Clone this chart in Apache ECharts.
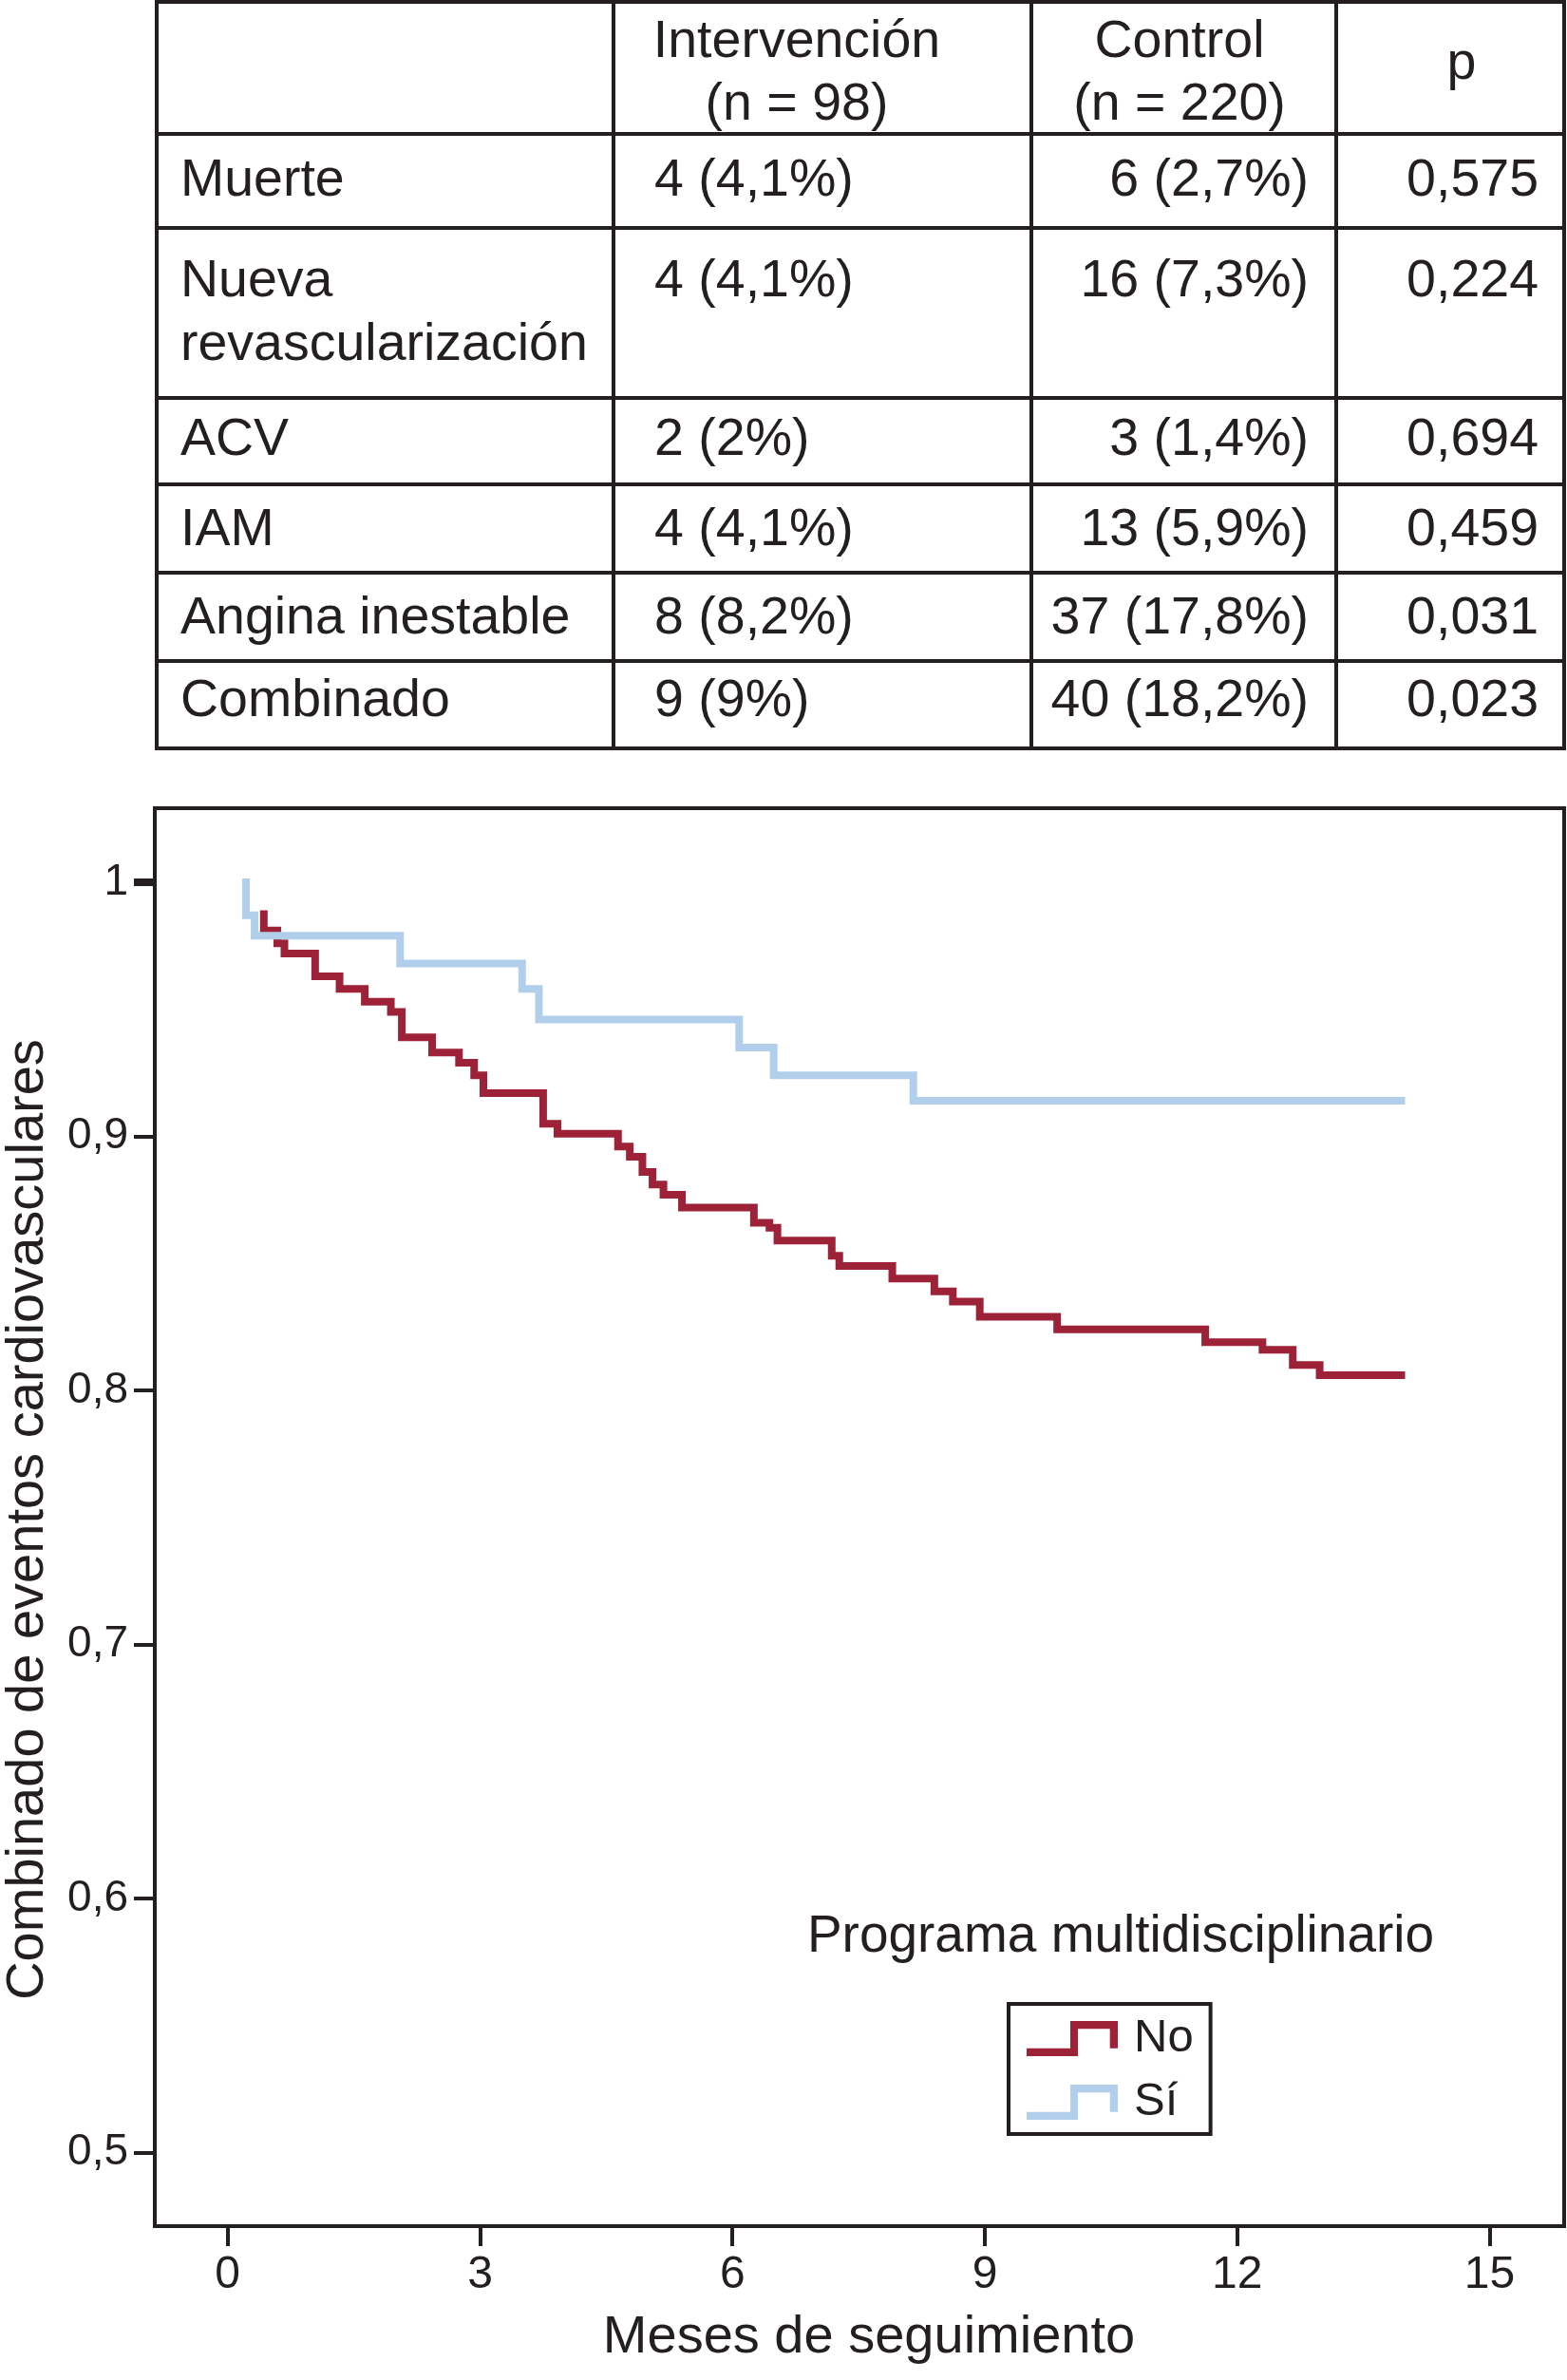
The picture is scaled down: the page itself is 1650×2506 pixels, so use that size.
<!DOCTYPE html>
<html>
<head>
<meta charset="utf-8">
<script src="https://cdn.jsdelivr.net/npm/echarts@6/dist/echarts.min.js"></script>
<style>
html,body{margin:0;padding:0;background:#ffffff;}
#chart{width:1650px;height:2506px;}
</style>
</head>
<body>
<div id="chart"></div>
<script>
// ---------------- data ----------------
const headers = [['Intervención', '(n = 98)'], ['Control', '(n = 220)'], ['p']];
const rowLabels = [['Muerte'], ['Nueva', 'revascularización'], ['ACV'], ['IAM'], ['Angina inestable'], ['Combinado']];
const intervencion = ['4 (4,1%)', '4 (4,1%)', '2 (2%)', '4 (4,1%)', '8 (8,2%)', '9 (9%)'];
const control = ['6 (2,7%)', '16 (7,3%)', '3 (1,4%)', '13 (5,9%)', '37 (17,8%)', '40 (18,2%)'];
const pValues = ['0,575', '0,224', '0,694', '0,459', '0,031', '0,023'];

const xTicks = [0, 3, 6, 9, 12, 15];
const yTicks = [0.5, 0.6, 0.7, 0.8, 0.9, 1];
const seriesNames = ['No', 'Sí'];
const xTitle = 'Meses de seguimiento';
const yTitle = 'Combinado de eventos cardiovasculares';
const legendTitle = 'Programa multidisciplinario';

// Kaplan-Meier steps: [month, survival after step]
const survNo = [
  [0.43, 0.9875], [0.43, 0.981], [0.59, 0.976], [0.675, 0.972], [1.04, 0.963], [1.33, 0.958],
  [1.63, 0.953], [1.94, 0.949], [2.07, 0.939], [2.43, 0.933], [2.75, 0.929], [2.93, 0.924],
  [3.04, 0.917], [3.75, 0.905], [3.92, 0.901], [4.64, 0.896], [4.78, 0.892], [4.93, 0.886],
  [5.05, 0.881], [5.18, 0.877], [5.40, 0.872], [6.255, 0.866], [6.44, 0.864], [6.535, 0.859],
  [7.18, 0.853], [7.27, 0.849], [7.90, 0.844], [8.40, 0.839], [8.62, 0.835], [8.94, 0.829],
  [9.86, 0.824], [11.62, 0.819], [12.30, 0.816], [12.66, 0.810], [12.98, 0.806], [13.95, 0.806]
];
const survSi = [
  [0.218, 1.0], [0.218, 0.987], [0.32, 0.979], [2.05, 0.968], [3.50, 0.958], [3.70, 0.946],
  [6.08, 0.935], [6.49, 0.924], [8.15, 0.914], [13.95, 0.914]
];

// ---------------- style / layout ----------------
const INK = '#231f20';
const RED = '#9d2238';
const BLUE = '#b1cfea';
const FONT = '"Liberation Sans", Arial, Helvetica, sans-serif';

const colX = [165, 646, 1086, 1407, 1647];
const rowY = [2, 141, 240, 419, 510, 603, 696, 788];
const rowTextY = [191, 297, 464, 559, 652, 739];
const lineGap = 67;

const gfx = [];
function txt(text, x, y, align, size, extra) {
  return Object.assign({
    type: 'text', x: x, y: y, silent: true,
    style: { text: text, fill: INK, fontSize: size || 55.5, fontFamily: FONT, align: align, verticalAlign: 'middle' }
  }, extra || {});
}
rowY.forEach(function (y) {
  gfx.push({ type: 'line', silent: true, shape: { x1: colX[0] - 2, y1: y, x2: colX[4] + 2, y2: y }, style: { stroke: INK, lineWidth: 4 } });
});
colX.forEach(function (x) {
  gfx.push({ type: 'line', silent: true, shape: { x1: x, y1: rowY[0] - 2, x2: x, y2: rowY[7] + 2 }, style: { stroke: INK, lineWidth: 4 } });
});
// header
gfx.push(txt(headers[0][0], 839, 45, 'center'));
gfx.push(txt(headers[0][1], 839, 111, 'center'));
gfx.push(txt(headers[1][0], 1242, 45, 'center'));
gfx.push(txt(headers[1][1], 1242, 111, 'center'));
gfx.push(txt(headers[2][0], 1539, 68, 'center'));
// rows
rowLabels.forEach(function (lbl, i) {
  lbl.forEach(function (line, k) { gfx.push(txt(line, 190, rowTextY[i] + k * lineGap, 'left')); });
  gfx.push(txt(intervencion[i], 689, rowTextY[i], 'left'));
  gfx.push(txt(control[i], 1378, rowTextY[i], 'right'));
  gfx.push(txt(pValues[i], 1620, rowTextY[i], 'right'));
});
// titles
gfx.push(txt(yTitle, 30, 1600, 'center', 56, { rotation: Math.PI / 2 }));
gfx.push(txt(xTitle, 915, 2462, 'center', 56));
gfx.push(txt(legendTitle, 1180, 2040, 'center', 55));

const fmtY = function (v) { return v === 1 ? '1' : v.toFixed(1).replace('.', ','); };

const chart = echarts.init(document.getElementById('chart'), null, { renderer: 'canvas' });
chart.setOption({
  animation: false,
  backgroundColor: '#ffffff',
  textStyle: { fontFamily: FONT, color: INK },
  grid: {
    left: 163, top: 851, width: 1484, height: 1493,
    show: true, borderColor: INK, borderWidth: 4, backgroundColor: 'transparent'
  },
  xAxis: {
    type: 'value', min: -0.866, max: 15.886,
    axisLine: { show: true, onZero: false, lineStyle: { color: INK, width: 4 } },
    axisTick: { show: true, customValues: xTicks, length: 21, lineStyle: { color: INK, width: 4 } },
    axisLabel: { customValues: xTicks, fontSize: 48, fontFamily: FONT, color: INK, margin: 28 },
    splitLine: { show: false }
  },
  yAxis: [{
    type: 'value', min: 0.47103, max: 1.02916,
    axisLine: { show: true, onZero: false, lineStyle: { color: INK, width: 4 } },
    axisTick: { show: true, customValues: yTicks, length: 22, lineStyle: { color: INK, width: 4 } },
    axisLabel: { customValues: yTicks, fontSize: 46, fontFamily: FONT, color: INK, margin: 28, formatter: fmtY },
    splitLine: { show: false }
  }, {
    type: 'value', min: 0.47103, max: 1.02916, position: 'left',
    axisLine: { show: false, onZero: false },
    axisTick: { show: true, customValues: [1], length: 22, lineStyle: { color: INK, width: 8 } },
    axisLabel: { show: false },
    splitLine: { show: false }
  }],
  legend: {
    data: seriesNames,
    orient: 'vertical',
    left: 1062, top: 2110,
    padding: [12, 18, 9, 19],
    itemGap: 18,
    itemWidth: 96, itemHeight: 37,
    borderColor: INK, borderWidth: 4, borderRadius: 0,
    icon: 'path://M0 28.7L46 28.7L46 0L96 0L96 28.7L87.7 28.7L87.7 8.3L54 8.3L54 37L0 37Z',
    itemStyle: { borderWidth: 0 },
    selectedMode: false,
    textStyle: { fontSize: 49, fontFamily: FONT, color: INK, padding: [0, 0, 0, 12] }
  },
  series: [{
    name: seriesNames[0], type: 'line', step: 'end', data: survNo,
    showSymbol: false, symbol: 'none', silent: true,
    itemStyle: { color: RED },
    lineStyle: { color: RED, width: 8, join: 'miter', cap: 'square' }
  }, {
    name: seriesNames[1], type: 'line', step: 'end', data: survSi,
    showSymbol: false, symbol: 'none', silent: true,
    itemStyle: { color: BLUE },
    lineStyle: { color: BLUE, width: 8, join: 'miter', cap: 'square' }
  }],
  graphic: { elements: gfx }
});
</script>
</body>
</html>
